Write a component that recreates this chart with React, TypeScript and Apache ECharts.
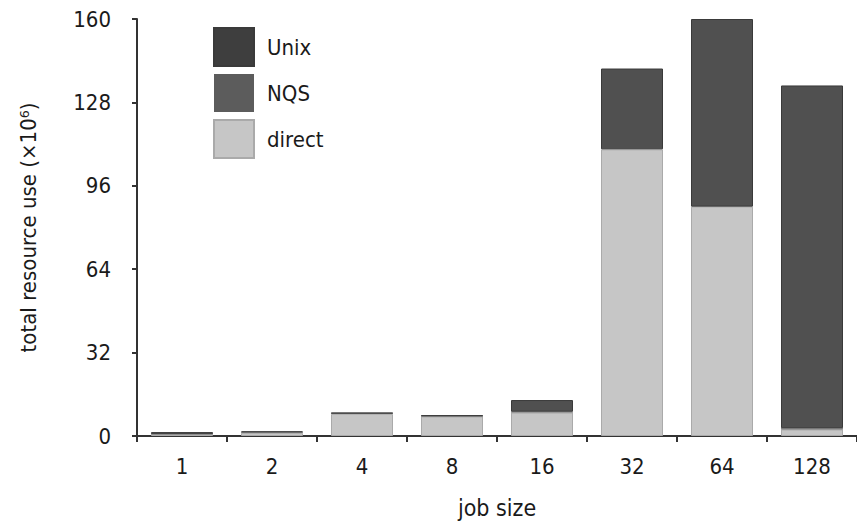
import React, { useEffect, useRef } from "react";
import * as echarts from "echarts";

const categories = ["1", "2", "4", "8", "16", "32", "64", "128"];
const directValues = [0.5, 1.2, 8.5, 7.5, 9, 110, 88, 2.5];
const nqsValues = [0.2, 0.2, 0.2, 0.2, 0.3, 0, 0, 0.5];
const unixValues = [0.8, 0.4, 0.2, 0.2, 4.5, 31, 72, 131.5];
const yTicks = { min: 0, max: 160, interval: 32 };

const FONT = "'DejaVu Sans Condensed', 'Liberation Sans Narrow', 'DejaVu Sans', sans-serif";
const TXT = "#1a1a1a";

export default function App() {
  const ref = useRef<HTMLDivElement>(null);
  useEffect(() => {
    if (!ref.current) return;
    const chart = echarts.init(ref.current, undefined, { renderer: "svg" });
    chart.setOption({
      animation: false,
      backgroundColor: "#ffffff",
      textStyle: { fontFamily: FONT, color: TXT },
      grid: { left: 137, right: 0, top: 19, bottom: 91 },
      legend: {
        orient: "vertical",
        left: 213,
        top: 27,
        padding: 0,
        itemWidth: 40,
        itemHeight: 38,
        itemGap: 7,
        icon: "rect",
        textStyle: { fontFamily: FONT, fontSize: 22, color: TXT, padding: [0, 0, 0, 8] },
        data: [
          { name: "Unix", itemStyle: { color: "#3e3e3e" } },
          { name: "NQS", itemStyle: { color: "#5c5c5c" } },
          { name: "direct", itemStyle: { color: "#c6c6c6" } },
        ],
      },
      xAxis: {
        type: "category",
        data: categories,
        name: "job size",
        nameLocation: "middle",
        nameGap: 60,
        nameTextStyle: { fontFamily: FONT, fontSize: 23, color: TXT },
        axisLine: { lineStyle: { color: "#333", width: 2 } },
        axisTick: { show: true, length: 6, lineStyle: { color: "#333", width: 2 } },
        axisLabel: { fontFamily: FONT, fontSize: 22, color: TXT, margin: 19 },
      },
      yAxis: {
        type: "value",
        min: yTicks.min,
        max: yTicks.max,
        interval: yTicks.interval,
        name: "total resource use (×10⁶)",
        nameLocation: "middle",
        nameGap: 98,
        nameRotate: 90,
        nameTextStyle: { fontFamily: FONT, fontSize: 22, color: TXT },
        splitLine: { show: false },
        axisLine: { show: true, lineStyle: { color: "#333", width: 2 } },
        axisTick: { show: true, length: 5, lineStyle: { color: "#333", width: 2 } },
        axisLabel: { fontFamily: FONT, fontSize: 22, color: TXT, margin: 26 },
      },
      series: [
        {
          name: "direct",
          type: "bar",
          stack: "total",
          barWidth: 62,
          data: directValues,
          itemStyle: { color: "#c6c6c6", borderColor: "#aaaaaa", borderWidth: 1 },
        },
        {
          name: "NQS",
          type: "bar",
          stack: "total",
          barWidth: 62,
          data: nqsValues,
          itemStyle: { color: "#5c5c5c" },
        },
        {
          name: "Unix",
          type: "bar",
          stack: "total",
          barWidth: 62,
          data: unixValues,
          itemStyle: { color: "#505050", borderColor: "#3a3a3a", borderWidth: 1 },
        },
      ],
    });
    return () => chart.dispose();
  }, []);
  return (
    <div
      ref={ref}
      style={{ position: "fixed", left: 0, top: 0, width: 857, height: 527 }}
    />
  );
}
